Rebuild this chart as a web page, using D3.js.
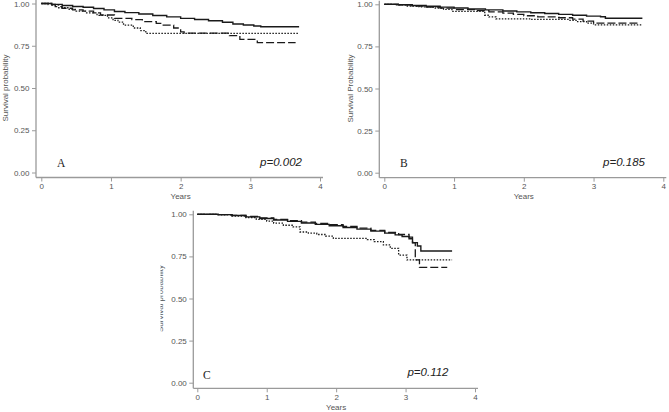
<!DOCTYPE html>
<html>
<head>
<meta charset="utf-8">
<script src="https://cdn.jsdelivr.net/npm/d3@7"></script>
<style>
  html, body { margin: 0; padding: 0; background: #fff; }
  svg { display: block; }
</style>
</head>
<body>
<svg id="chart" width="669" height="412"></svg>
<script>
// ---------- data ----------
const yearTicks = [0, 1, 2, 3, 4];
const survTicks = [0, 0.25, 0.5, 0.75, 1];
const survTickLabels = ["0.00", "0.25", "0.50", "0.75", "1.00"];

const panelLetters = ["A", "B", "C"];
const pValues = ["p=0.002", "p=0.185", "p=0.112"];
const yTitles = ["Survival probability", "Survival Probability", "Survival probability"];
const xTitle = "Years";

// Panel A
const aSolidT = [0, 0.15, 0.3, 0.45, 0.6, 0.75, 0.9, 1.05, 1.2, 1.4, 1.6, 1.8, 2.0, 2.2, 2.4, 2.6, 2.75, 2.9, 3.05, 3.15, 3.7];
const aSolidS = [1, 0.995, 0.988, 0.982, 0.978, 0.97, 0.962, 0.953, 0.946, 0.938, 0.929, 0.921, 0.912, 0.905, 0.898, 0.889, 0.879, 0.873, 0.867, 0.862, 0.862];
const aDashT = [0, 0.1, 0.2, 0.3, 0.45, 0.6, 0.75, 0.85, 1.05, 1.3, 1.45, 1.65, 1.75, 1.9, 2.0, 2.05, 2.7, 2.85, 3.1, 3.65];
const aDashS = [1, 0.994, 0.982, 0.972, 0.962, 0.955, 0.945, 0.932, 0.912, 0.905, 0.893, 0.882, 0.872, 0.855, 0.832, 0.825, 0.81, 0.788, 0.768, 0.768];
const aDotT = [0, 0.15, 0.25, 0.4, 0.5, 0.65, 0.8, 0.95, 1.03, 1.1, 1.18, 1.32, 1.42, 1.5, 3.69];
const aDotS = [1, 0.99, 0.975, 0.965, 0.955, 0.945, 0.93, 0.915, 0.9, 0.89, 0.872, 0.855, 0.84, 0.823, 0.823];

// Panel B
const bSolidT = [0, 0.2, 0.4, 0.6, 0.8, 1.0, 1.2, 1.45, 1.7, 1.9, 2.1, 2.3, 2.5, 2.7, 2.9, 3.1, 3.17, 3.7];
const bSolidS = [1, 0.997, 0.993, 0.988, 0.983, 0.978, 0.972, 0.967, 0.96, 0.955, 0.95, 0.945, 0.94, 0.935, 0.93, 0.926, 0.917, 0.917];
const bDashT = [0, 0.2, 0.4, 0.6, 0.8, 1.0, 1.3, 1.5, 1.7, 1.85, 2.0, 2.2, 2.5, 2.7, 2.85, 3.0, 3.65];
const bDashS = [1, 0.996, 0.99, 0.984, 0.977, 0.968, 0.962, 0.955, 0.948, 0.94, 0.932, 0.925, 0.92, 0.912, 0.9, 0.888, 0.888];
const bDotT = [0, 0.15, 0.3, 0.5, 0.7, 0.85, 0.97, 1.44, 1.5, 1.6, 2.1, 2.65, 2.75, 2.9, 3.0, 3.69];
const bDotS = [1, 0.997, 0.99, 0.985, 0.978, 0.97, 0.958, 0.935, 0.925, 0.914, 0.91, 0.905, 0.897, 0.888, 0.878, 0.878];

// Panel C
const cSolidT = [0, 0.3, 0.5, 0.7, 0.9, 1.1, 1.3, 1.5, 1.7, 1.9, 2.1, 2.3, 2.5, 2.7, 2.85, 2.95, 3.05, 3.1, 3.17, 3.22, 3.67];
const cSolidS = [1, 0.998, 0.993, 0.985, 0.975, 0.966, 0.958, 0.948, 0.94, 0.932, 0.922, 0.912, 0.9, 0.888, 0.878, 0.868, 0.855, 0.832, 0.812, 0.782, 0.782];
const cDashT = [0, 0.3, 0.5, 0.7, 0.9, 1.1, 1.3, 1.5, 1.7, 1.9, 2.1, 2.3, 2.5, 2.7, 2.9, 3.05, 3.1, 3.14, 3.2, 3.6];
const cDashS = [1, 0.998, 0.994, 0.987, 0.978, 0.97, 0.962, 0.953, 0.946, 0.938, 0.928, 0.918, 0.905, 0.892, 0.88, 0.865, 0.83, 0.729, 0.685, 0.685];
const cDotT = [0, 0.3, 0.5, 0.7, 0.85, 1.0, 1.1, 1.24, 1.38, 1.48, 1.6, 1.72, 1.85, 1.96, 2.45, 2.55, 2.68, 2.78, 2.9, 3.02, 3.67];
const cDotS = [1, 0.997, 0.99, 0.98, 0.97, 0.96, 0.948, 0.935, 0.925, 0.895, 0.888, 0.88, 0.87, 0.857, 0.85, 0.838, 0.818, 0.798, 0.758, 0.729, 0.729];

// ---------- layout ----------
const panels = [
  { x0: 41.3, x1: 320, yTop: 3.5, yBot: 172.5, axX: 36, axY: 177.5, yTitleX: 5, clipX: 0,
    letterX: 57, letterY: 166.5, pX: 302, pY: 166, series: [[aSolidT, aSolidS], [aDashT, aDashS], [aDotT, aDotS]] },
  { x0: 384.3, x1: 663.3, yTop: 4.3, yBot: 172.7, axX: 379.3, axY: 177.7, yTitleX: 350, clipX: 335,
    letterX: 400, letterY: 166.5, pX: 645, pY: 166, series: [[bSolidT, bSolidS], [bDashT, bDashS], [bDotT, bDotS]] },
  { x0: 197.3, x1: 475, yTop: 214.3, yBot: 382.7, axX: 193.3, axY: 388.3, yTitleX: 160, clipX: 160.5,
    letterX: 203, letterY: 379, pX: 448.5, pY: 375.5, series: [[cSolidT, cSolidS], [cDashT, cDashS], [cDotT, cDotS]] }
];

const styles = [
  { dash: null, width: 1.4 },
  { dash: "8,3", width: 1.3 },
  { dash: "1.5,1.5", width: 1.3 }
];

const axisColor = "#9a9a9a";
const labelColor = "#555";
const svg = d3.select("#chart");
const defs = svg.append("defs");

panels.forEach((p, i) => {
  const x = d3.scaleLinear().domain([0, 4]).range([p.x0, p.x1]);
  const y = d3.scaleLinear().domain([0, 1]).range([p.yBot, p.yTop]);
  const clipId = "clip" + i;
  defs.append("clipPath").attr("id", clipId)
    .append("rect").attr("x", p.clipX).attr("y", 0).attr("width", 669).attr("height", 412);
  const g = svg.append("g").attr("clip-path", `url(#${clipId})`);

  // axis lines
  g.append("line").attr("x1", p.axX).attr("x2", p.axX)
    .attr("y1", p.yTop - 3.5).attr("y2", p.axY)
    .attr("stroke", axisColor).attr("stroke-width", 1.3);
  g.append("line").attr("x1", p.axX).attr("x2", p.x1 + 3)
    .attr("y1", p.axY).attr("y2", p.axY)
    .attr("stroke", axisColor).attr("stroke-width", 1.3);

  // y axis
  const yAxis = d3.axisLeft(y).tickValues(survTicks)
    .tickFormat((d, k) => survTickLabels[k]).tickSize(4).tickPadding(2.5).tickSizeOuter(0);
  const ya = g.append("g").attr("transform", `translate(${p.axX},0)`).call(yAxis);
  ya.select(".domain").remove();
  ya.selectAll("line").attr("stroke", axisColor).attr("stroke-width", 1);
  ya.selectAll("text").attr("fill", labelColor).style("font-family", "'Liberation Sans', Arial, sans-serif").style("font-size", "8px");

  // x axis
  const xAxis = d3.axisBottom(x).tickValues(yearTicks).tickFormat(d3.format("d"))
    .tickSize(4).tickPadding(2).tickSizeOuter(0);
  const xa = g.append("g").attr("transform", `translate(0,${p.axY})`).call(xAxis);
  xa.select(".domain").remove();
  xa.selectAll("line").attr("stroke", axisColor).attr("stroke-width", 1);
  xa.selectAll("text").attr("fill", labelColor).style("font-family", "'Liberation Sans', Arial, sans-serif").style("font-size", "8px");

  // titles
  g.append("text").attr("x", (p.x0 + p.x1) / 2).attr("y", p.axY + 21.5)
    .attr("text-anchor", "middle").attr("fill", labelColor)
    .style("font-family", "'Liberation Sans', Arial, sans-serif").style("font-size", "8px")
    .text(xTitle);
  g.append("text")
    .attr("transform", `translate(${p.yTitleX + 3},${(p.yTop + p.yBot) / 2}) rotate(-90)`)
    .attr("text-anchor", "middle").attr("fill", labelColor)
    .style("font-family", "'Liberation Sans', Arial, sans-serif").style("font-size", "8px")
    .text(yTitles[i]);

  // curves
  p.series.forEach((s, k) => {
    const pts = s[0].map((t, j) => [t, s[1][j]]);
    const line = d3.line().x(d => x(d[0])).y(d => y(d[1])).curve(d3.curveStepAfter);
    const path = g.append("path").datum(pts).attr("d", line)
      .attr("fill", "none").attr("stroke", "#1a1a1a")
      .attr("stroke-width", styles[k].width);
    if (styles[k].dash) path.attr("stroke-dasharray", styles[k].dash);
  });

  // annotations
  g.append("text").attr("x", p.letterX).attr("y", p.letterY)
    .attr("fill", "#222")
    .style("font-family", "'Liberation Serif', 'Times New Roman', serif").style("font-size", "11.5px")
    .text(panelLetters[i]);
  g.append("text").attr("x", p.pX).attr("y", p.pY)
    .attr("text-anchor", "end").attr("fill", "#222")
    .style("font-family", "'Liberation Sans', Arial, sans-serif").style("font-style", "italic").style("font-size", "11.5px")
    .text(pValues[i]);
});
</script>
</body>
</html>
